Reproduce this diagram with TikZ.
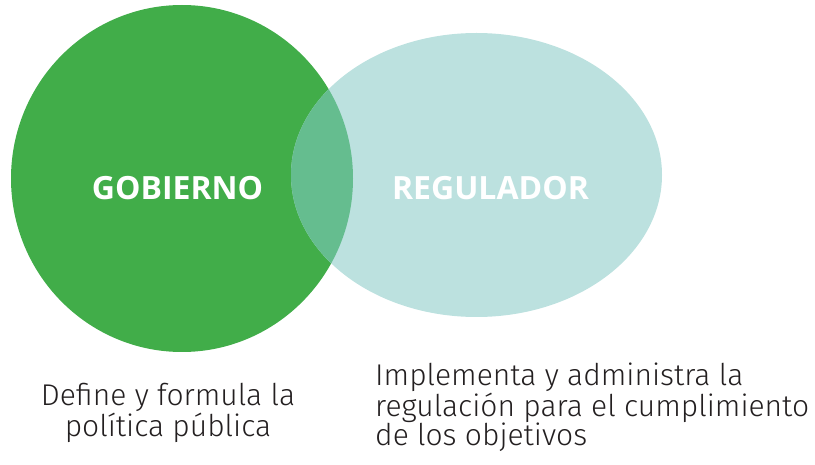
\documentclass[tikz,border=0pt]{standalone}
\usepackage{fontspec}
\setmainfont{Fira Sans}
\newfontfamily\lightfont{Fira Sans Light}
\newfontfamily\labelfont{Open Sans}
\usetikzlibrary{shapes.geometric}
\definecolor{gob}{HTML}{41AD49}
\definecolor{reg}{HTML}{BCE1DF}
\definecolor{mix}{HTML}{65BD8F}
\definecolor{txt}{HTML}{231F20}
\tikzset{
  biglabel/.style={text=white, font=\labelfont\fontsize{32}{32}\selectfont\bfseries, inner sep=0pt, anchor=base},
  desc/.style={text=txt, font=\lightfont\fontsize{30}{28.5}\selectfont, inner sep=0pt, anchor=base}
}
\begin{document}
\begin{tikzpicture}[x=1pt,y=-1pt]
\useasboundingbox (0,0) rectangle (815,465);
\fill[gob] (182,178.5) ellipse [x radius=171, y radius=173.5];
\fill[reg] (476.5,175) ellipse [x radius=185.5, y radius=142];
\begin{scope}
  \clip (182,178.5) ellipse [x radius=171, y radius=173.5];
  \fill[mix] (476.5,175) ellipse [x radius=185.5, y radius=142];
\end{scope}
\node[biglabel] (gobierno) at (177.5,200) {GOBIERNO};
\node[biglabel] (regulador) at (490.5,200) {REGULADOR};
\node[desc, align=center] (gobdesc) at (168,436) {Define y formula la\\política pública};
\node[desc, align=left, anchor=base west] (regdesc) at (375,446) {Implementa y administra la\\regulación para el cumplimiento\\de los objetivos};
\end{tikzpicture}
\end{document}
